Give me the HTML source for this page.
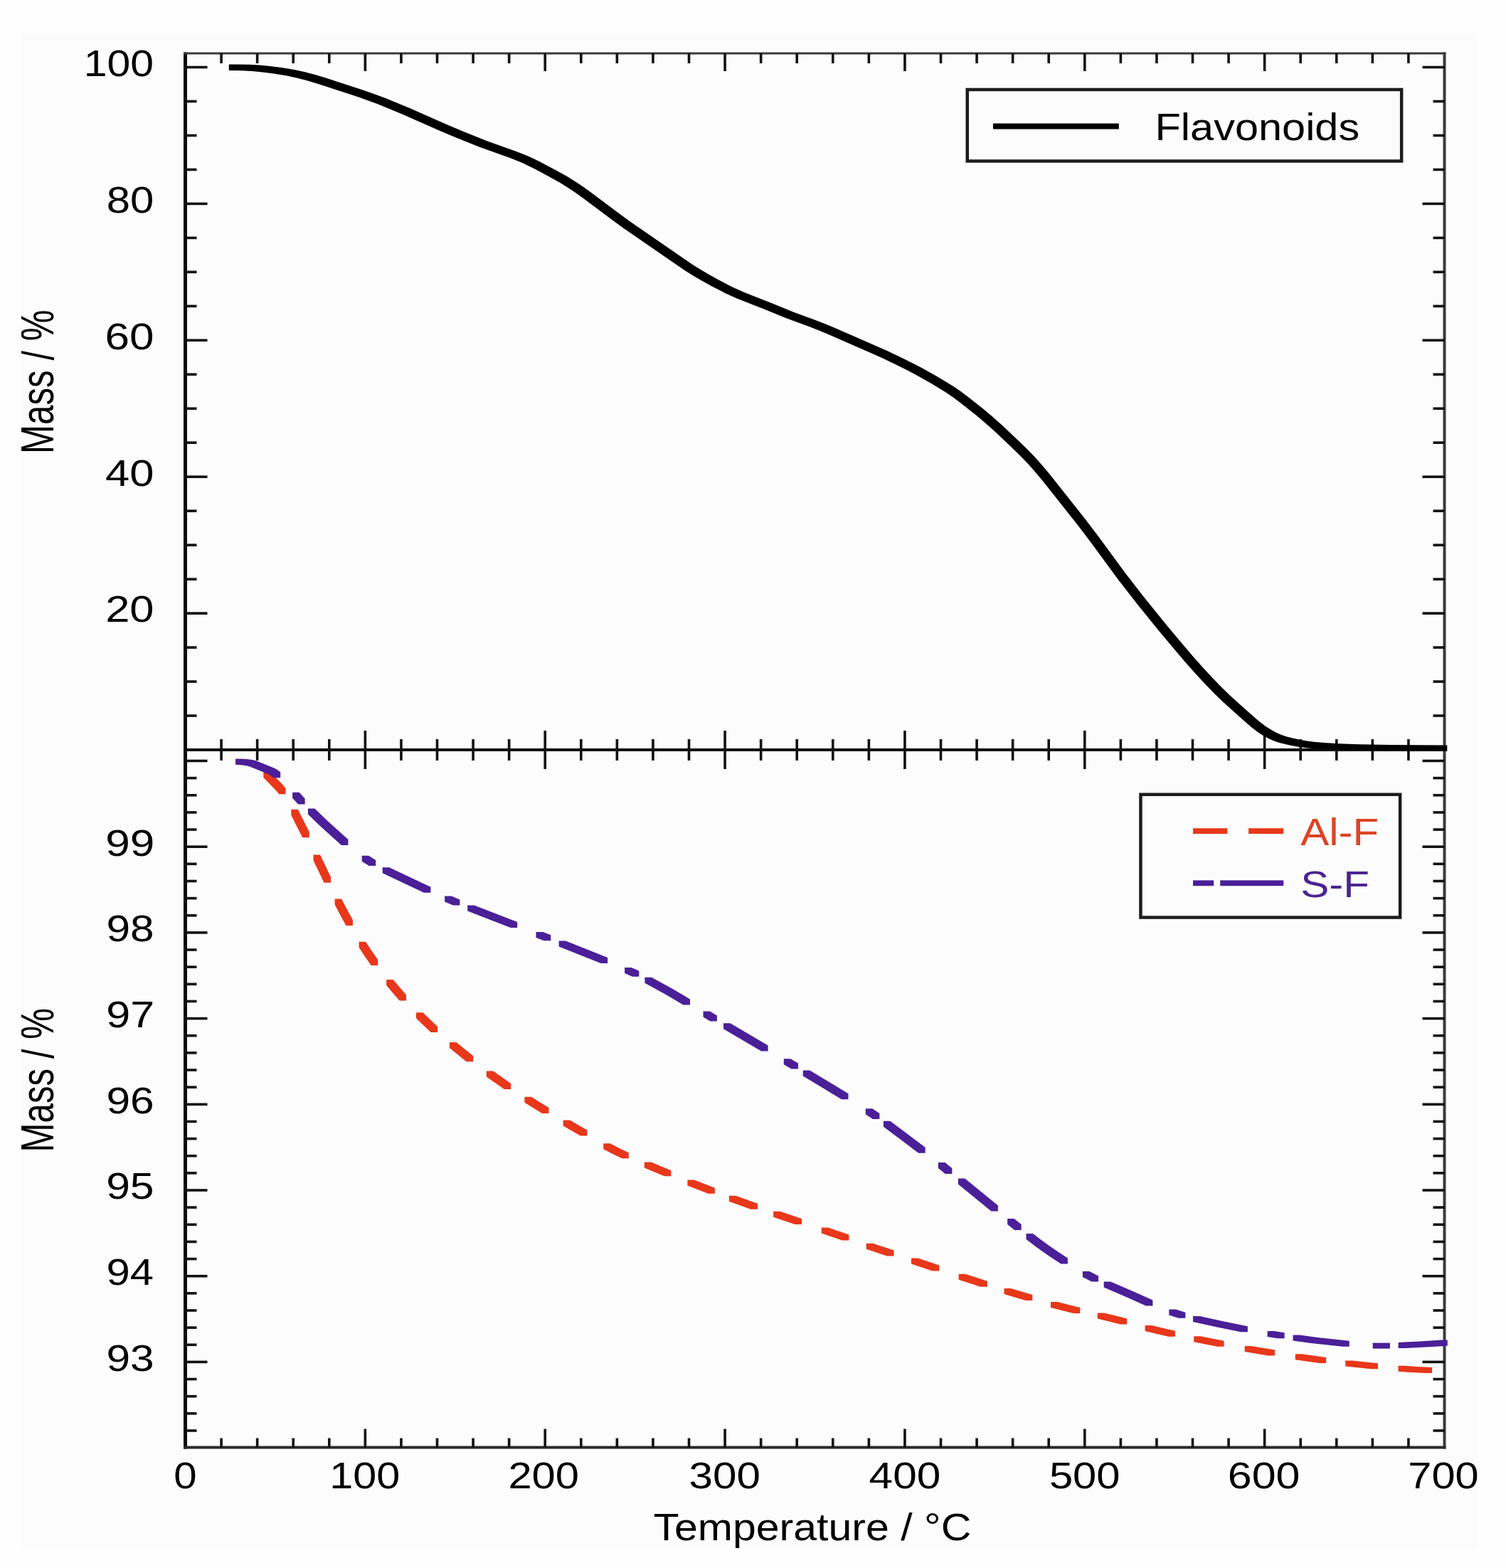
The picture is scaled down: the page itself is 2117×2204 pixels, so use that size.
<!DOCTYPE html>
<html><head><meta charset="utf-8"><title>TGA curves</title>
<style>html,body{margin:0;padding:0;background:#fefefe;}svg{display:block;}</style></head>
<body>
<svg width="2117" height="2204" viewBox="0 0 2117 2204">
<defs><clipPath id="clipL"><rect x="30" y="0" width="2100" height="2204"/></clipPath></defs>
<rect x="0" y="0" width="2117" height="2204" fill="#fefefe"/>
<rect x="30" y="47" width="2046" height="2129" fill="#fcfcfd"/>
<rect x="258" y="73.5" width="5" height="1963" fill="#0a0a0a"/>
<rect x="2028.5" y="73.5" width="4" height="1963" fill="#3a3a3a"/>
<rect x="258" y="73.5" width="1774.5" height="3" fill="#3a3a3a"/>
<rect x="258" y="1052" width="1774.5" height="4" fill="#0a0a0a"/>
<rect x="258" y="2032.5" width="1774.5" height="4" fill="#2a2a2a"/>
<rect x="309.27" y="75" width="3.6" height="14" fill="#111111"/>
<rect x="309.27" y="1039" width="3.6" height="30" fill="#111111"/>
<rect x="309.27" y="2021.5" width="3.6" height="13" fill="#111111"/>
<rect x="359.84" y="75" width="3.6" height="14" fill="#111111"/>
<rect x="359.84" y="1039" width="3.6" height="30" fill="#111111"/>
<rect x="359.84" y="2021.5" width="3.6" height="13" fill="#111111"/>
<rect x="410.41" y="75" width="3.6" height="14" fill="#111111"/>
<rect x="410.41" y="1039" width="3.6" height="30" fill="#111111"/>
<rect x="410.41" y="2021.5" width="3.6" height="13" fill="#111111"/>
<rect x="460.99" y="75" width="3.6" height="14" fill="#111111"/>
<rect x="460.99" y="1039" width="3.6" height="30" fill="#111111"/>
<rect x="460.99" y="2021.5" width="3.6" height="13" fill="#111111"/>
<rect x="511.56" y="75" width="3.6" height="25" fill="#111111"/>
<rect x="511.56" y="1027" width="3.6" height="54" fill="#111111"/>
<rect x="511.56" y="2008.5" width="3.6" height="26" fill="#111111"/>
<rect x="562.13" y="75" width="3.6" height="14" fill="#111111"/>
<rect x="562.13" y="1039" width="3.6" height="30" fill="#111111"/>
<rect x="562.13" y="2021.5" width="3.6" height="13" fill="#111111"/>
<rect x="612.7" y="75" width="3.6" height="14" fill="#111111"/>
<rect x="612.7" y="1039" width="3.6" height="30" fill="#111111"/>
<rect x="612.7" y="2021.5" width="3.6" height="13" fill="#111111"/>
<rect x="663.27" y="75" width="3.6" height="14" fill="#111111"/>
<rect x="663.27" y="1039" width="3.6" height="30" fill="#111111"/>
<rect x="663.27" y="2021.5" width="3.6" height="13" fill="#111111"/>
<rect x="713.84" y="75" width="3.6" height="14" fill="#111111"/>
<rect x="713.84" y="1039" width="3.6" height="30" fill="#111111"/>
<rect x="713.84" y="2021.5" width="3.6" height="13" fill="#111111"/>
<rect x="764.41" y="75" width="3.6" height="25" fill="#111111"/>
<rect x="764.41" y="1027" width="3.6" height="54" fill="#111111"/>
<rect x="764.41" y="2008.5" width="3.6" height="26" fill="#111111"/>
<rect x="814.99" y="75" width="3.6" height="14" fill="#111111"/>
<rect x="814.99" y="1039" width="3.6" height="30" fill="#111111"/>
<rect x="814.99" y="2021.5" width="3.6" height="13" fill="#111111"/>
<rect x="865.56" y="75" width="3.6" height="14" fill="#111111"/>
<rect x="865.56" y="1039" width="3.6" height="30" fill="#111111"/>
<rect x="865.56" y="2021.5" width="3.6" height="13" fill="#111111"/>
<rect x="916.13" y="75" width="3.6" height="14" fill="#111111"/>
<rect x="916.13" y="1039" width="3.6" height="30" fill="#111111"/>
<rect x="916.13" y="2021.5" width="3.6" height="13" fill="#111111"/>
<rect x="966.7" y="75" width="3.6" height="14" fill="#111111"/>
<rect x="966.7" y="1039" width="3.6" height="30" fill="#111111"/>
<rect x="966.7" y="2021.5" width="3.6" height="13" fill="#111111"/>
<rect x="1017.27" y="75" width="3.6" height="25" fill="#111111"/>
<rect x="1017.27" y="1027" width="3.6" height="54" fill="#111111"/>
<rect x="1017.27" y="2008.5" width="3.6" height="26" fill="#111111"/>
<rect x="1067.84" y="75" width="3.6" height="14" fill="#111111"/>
<rect x="1067.84" y="1039" width="3.6" height="30" fill="#111111"/>
<rect x="1067.84" y="2021.5" width="3.6" height="13" fill="#111111"/>
<rect x="1118.41" y="75" width="3.6" height="14" fill="#111111"/>
<rect x="1118.41" y="1039" width="3.6" height="30" fill="#111111"/>
<rect x="1118.41" y="2021.5" width="3.6" height="13" fill="#111111"/>
<rect x="1168.99" y="75" width="3.6" height="14" fill="#111111"/>
<rect x="1168.99" y="1039" width="3.6" height="30" fill="#111111"/>
<rect x="1168.99" y="2021.5" width="3.6" height="13" fill="#111111"/>
<rect x="1219.56" y="75" width="3.6" height="14" fill="#111111"/>
<rect x="1219.56" y="1039" width="3.6" height="30" fill="#111111"/>
<rect x="1219.56" y="2021.5" width="3.6" height="13" fill="#111111"/>
<rect x="1270.13" y="75" width="3.6" height="25" fill="#111111"/>
<rect x="1270.13" y="1027" width="3.6" height="54" fill="#111111"/>
<rect x="1270.13" y="2008.5" width="3.6" height="26" fill="#111111"/>
<rect x="1320.7" y="75" width="3.6" height="14" fill="#111111"/>
<rect x="1320.7" y="1039" width="3.6" height="30" fill="#111111"/>
<rect x="1320.7" y="2021.5" width="3.6" height="13" fill="#111111"/>
<rect x="1371.27" y="75" width="3.6" height="14" fill="#111111"/>
<rect x="1371.27" y="1039" width="3.6" height="30" fill="#111111"/>
<rect x="1371.27" y="2021.5" width="3.6" height="13" fill="#111111"/>
<rect x="1421.84" y="75" width="3.6" height="14" fill="#111111"/>
<rect x="1421.84" y="1039" width="3.6" height="30" fill="#111111"/>
<rect x="1421.84" y="2021.5" width="3.6" height="13" fill="#111111"/>
<rect x="1472.41" y="75" width="3.6" height="14" fill="#111111"/>
<rect x="1472.41" y="1039" width="3.6" height="30" fill="#111111"/>
<rect x="1472.41" y="2021.5" width="3.6" height="13" fill="#111111"/>
<rect x="1522.99" y="75" width="3.6" height="25" fill="#111111"/>
<rect x="1522.99" y="1027" width="3.6" height="54" fill="#111111"/>
<rect x="1522.99" y="2008.5" width="3.6" height="26" fill="#111111"/>
<rect x="1573.56" y="75" width="3.6" height="14" fill="#111111"/>
<rect x="1573.56" y="1039" width="3.6" height="30" fill="#111111"/>
<rect x="1573.56" y="2021.5" width="3.6" height="13" fill="#111111"/>
<rect x="1624.13" y="75" width="3.6" height="14" fill="#111111"/>
<rect x="1624.13" y="1039" width="3.6" height="30" fill="#111111"/>
<rect x="1624.13" y="2021.5" width="3.6" height="13" fill="#111111"/>
<rect x="1674.7" y="75" width="3.6" height="14" fill="#111111"/>
<rect x="1674.7" y="1039" width="3.6" height="30" fill="#111111"/>
<rect x="1674.7" y="2021.5" width="3.6" height="13" fill="#111111"/>
<rect x="1725.27" y="75" width="3.6" height="14" fill="#111111"/>
<rect x="1725.27" y="1039" width="3.6" height="30" fill="#111111"/>
<rect x="1725.27" y="2021.5" width="3.6" height="13" fill="#111111"/>
<rect x="1775.84" y="75" width="3.6" height="25" fill="#111111"/>
<rect x="1775.84" y="1027" width="3.6" height="54" fill="#111111"/>
<rect x="1775.84" y="2008.5" width="3.6" height="26" fill="#111111"/>
<rect x="1826.41" y="75" width="3.6" height="14" fill="#111111"/>
<rect x="1826.41" y="1039" width="3.6" height="30" fill="#111111"/>
<rect x="1826.41" y="2021.5" width="3.6" height="13" fill="#111111"/>
<rect x="1876.99" y="75" width="3.6" height="14" fill="#111111"/>
<rect x="1876.99" y="1039" width="3.6" height="30" fill="#111111"/>
<rect x="1876.99" y="2021.5" width="3.6" height="13" fill="#111111"/>
<rect x="1927.56" y="75" width="3.6" height="14" fill="#111111"/>
<rect x="1927.56" y="1039" width="3.6" height="30" fill="#111111"/>
<rect x="1927.56" y="2021.5" width="3.6" height="13" fill="#111111"/>
<rect x="1978.13" y="75" width="3.6" height="14" fill="#111111"/>
<rect x="1978.13" y="1039" width="3.6" height="30" fill="#111111"/>
<rect x="1978.13" y="2021.5" width="3.6" height="13" fill="#111111"/>
<rect x="260.5" y="92.7" width="31" height="3.6" fill="#111111"/>
<rect x="1999.5" y="92.7" width="31" height="3.6" fill="#111111"/>
<rect x="260.5" y="140.67" width="16" height="3.6" fill="#111111"/>
<rect x="2014.5" y="140.67" width="16" height="3.6" fill="#111111"/>
<rect x="260.5" y="188.65" width="16" height="3.6" fill="#111111"/>
<rect x="2014.5" y="188.65" width="16" height="3.6" fill="#111111"/>
<rect x="260.5" y="236.62" width="16" height="3.6" fill="#111111"/>
<rect x="2014.5" y="236.62" width="16" height="3.6" fill="#111111"/>
<rect x="260.5" y="284.6" width="31" height="3.6" fill="#111111"/>
<rect x="1999.5" y="284.6" width="31" height="3.6" fill="#111111"/>
<rect x="260.5" y="332.57" width="16" height="3.6" fill="#111111"/>
<rect x="2014.5" y="332.57" width="16" height="3.6" fill="#111111"/>
<rect x="260.5" y="380.55" width="16" height="3.6" fill="#111111"/>
<rect x="2014.5" y="380.55" width="16" height="3.6" fill="#111111"/>
<rect x="260.5" y="428.53" width="16" height="3.6" fill="#111111"/>
<rect x="2014.5" y="428.53" width="16" height="3.6" fill="#111111"/>
<rect x="260.5" y="476.5" width="31" height="3.6" fill="#111111"/>
<rect x="1999.5" y="476.5" width="31" height="3.6" fill="#111111"/>
<rect x="260.5" y="524.48" width="16" height="3.6" fill="#111111"/>
<rect x="2014.5" y="524.48" width="16" height="3.6" fill="#111111"/>
<rect x="260.5" y="572.45" width="16" height="3.6" fill="#111111"/>
<rect x="2014.5" y="572.45" width="16" height="3.6" fill="#111111"/>
<rect x="260.5" y="620.43" width="16" height="3.6" fill="#111111"/>
<rect x="2014.5" y="620.43" width="16" height="3.6" fill="#111111"/>
<rect x="260.5" y="668.4" width="31" height="3.6" fill="#111111"/>
<rect x="1999.5" y="668.4" width="31" height="3.6" fill="#111111"/>
<rect x="260.5" y="716.38" width="16" height="3.6" fill="#111111"/>
<rect x="2014.5" y="716.38" width="16" height="3.6" fill="#111111"/>
<rect x="260.5" y="764.35" width="16" height="3.6" fill="#111111"/>
<rect x="2014.5" y="764.35" width="16" height="3.6" fill="#111111"/>
<rect x="260.5" y="812.33" width="16" height="3.6" fill="#111111"/>
<rect x="2014.5" y="812.33" width="16" height="3.6" fill="#111111"/>
<rect x="260.5" y="860.3" width="31" height="3.6" fill="#111111"/>
<rect x="1999.5" y="860.3" width="31" height="3.6" fill="#111111"/>
<rect x="260.5" y="908.28" width="16" height="3.6" fill="#111111"/>
<rect x="2014.5" y="908.28" width="16" height="3.6" fill="#111111"/>
<rect x="260.5" y="956.25" width="16" height="3.6" fill="#111111"/>
<rect x="2014.5" y="956.25" width="16" height="3.6" fill="#111111"/>
<rect x="260.5" y="1004.23" width="16" height="3.6" fill="#111111"/>
<rect x="2014.5" y="1004.23" width="16" height="3.6" fill="#111111"/>
<rect x="260.5" y="1067.7" width="31" height="3.6" fill="#111111"/>
<rect x="1999.5" y="1067.7" width="31" height="3.6" fill="#111111"/>
<rect x="260.5" y="1091.84" width="16" height="3.6" fill="#111111"/>
<rect x="2014.5" y="1091.84" width="16" height="3.6" fill="#111111"/>
<rect x="260.5" y="1115.98" width="16" height="3.6" fill="#111111"/>
<rect x="2014.5" y="1115.98" width="16" height="3.6" fill="#111111"/>
<rect x="260.5" y="1140.12" width="16" height="3.6" fill="#111111"/>
<rect x="2014.5" y="1140.12" width="16" height="3.6" fill="#111111"/>
<rect x="260.5" y="1164.26" width="16" height="3.6" fill="#111111"/>
<rect x="2014.5" y="1164.26" width="16" height="3.6" fill="#111111"/>
<rect x="260.5" y="1188.4" width="31" height="3.6" fill="#111111"/>
<rect x="1999.5" y="1188.4" width="31" height="3.6" fill="#111111"/>
<rect x="260.5" y="1212.54" width="16" height="3.6" fill="#111111"/>
<rect x="2014.5" y="1212.54" width="16" height="3.6" fill="#111111"/>
<rect x="260.5" y="1236.68" width="16" height="3.6" fill="#111111"/>
<rect x="2014.5" y="1236.68" width="16" height="3.6" fill="#111111"/>
<rect x="260.5" y="1260.82" width="16" height="3.6" fill="#111111"/>
<rect x="2014.5" y="1260.82" width="16" height="3.6" fill="#111111"/>
<rect x="260.5" y="1284.96" width="16" height="3.6" fill="#111111"/>
<rect x="2014.5" y="1284.96" width="16" height="3.6" fill="#111111"/>
<rect x="260.5" y="1309.1" width="31" height="3.6" fill="#111111"/>
<rect x="1999.5" y="1309.1" width="31" height="3.6" fill="#111111"/>
<rect x="260.5" y="1333.24" width="16" height="3.6" fill="#111111"/>
<rect x="2014.5" y="1333.24" width="16" height="3.6" fill="#111111"/>
<rect x="260.5" y="1357.38" width="16" height="3.6" fill="#111111"/>
<rect x="2014.5" y="1357.38" width="16" height="3.6" fill="#111111"/>
<rect x="260.5" y="1381.52" width="16" height="3.6" fill="#111111"/>
<rect x="2014.5" y="1381.52" width="16" height="3.6" fill="#111111"/>
<rect x="260.5" y="1405.66" width="16" height="3.6" fill="#111111"/>
<rect x="2014.5" y="1405.66" width="16" height="3.6" fill="#111111"/>
<rect x="260.5" y="1429.8" width="31" height="3.6" fill="#111111"/>
<rect x="1999.5" y="1429.8" width="31" height="3.6" fill="#111111"/>
<rect x="260.5" y="1453.94" width="16" height="3.6" fill="#111111"/>
<rect x="2014.5" y="1453.94" width="16" height="3.6" fill="#111111"/>
<rect x="260.5" y="1478.08" width="16" height="3.6" fill="#111111"/>
<rect x="2014.5" y="1478.08" width="16" height="3.6" fill="#111111"/>
<rect x="260.5" y="1502.22" width="16" height="3.6" fill="#111111"/>
<rect x="2014.5" y="1502.22" width="16" height="3.6" fill="#111111"/>
<rect x="260.5" y="1526.36" width="16" height="3.6" fill="#111111"/>
<rect x="2014.5" y="1526.36" width="16" height="3.6" fill="#111111"/>
<rect x="260.5" y="1550.5" width="31" height="3.6" fill="#111111"/>
<rect x="1999.5" y="1550.5" width="31" height="3.6" fill="#111111"/>
<rect x="260.5" y="1574.64" width="16" height="3.6" fill="#111111"/>
<rect x="2014.5" y="1574.64" width="16" height="3.6" fill="#111111"/>
<rect x="260.5" y="1598.78" width="16" height="3.6" fill="#111111"/>
<rect x="2014.5" y="1598.78" width="16" height="3.6" fill="#111111"/>
<rect x="260.5" y="1622.92" width="16" height="3.6" fill="#111111"/>
<rect x="2014.5" y="1622.92" width="16" height="3.6" fill="#111111"/>
<rect x="260.5" y="1647.06" width="16" height="3.6" fill="#111111"/>
<rect x="2014.5" y="1647.06" width="16" height="3.6" fill="#111111"/>
<rect x="260.5" y="1671.2" width="31" height="3.6" fill="#111111"/>
<rect x="1999.5" y="1671.2" width="31" height="3.6" fill="#111111"/>
<rect x="260.5" y="1695.34" width="16" height="3.6" fill="#111111"/>
<rect x="2014.5" y="1695.34" width="16" height="3.6" fill="#111111"/>
<rect x="260.5" y="1719.48" width="16" height="3.6" fill="#111111"/>
<rect x="2014.5" y="1719.48" width="16" height="3.6" fill="#111111"/>
<rect x="260.5" y="1743.62" width="16" height="3.6" fill="#111111"/>
<rect x="2014.5" y="1743.62" width="16" height="3.6" fill="#111111"/>
<rect x="260.5" y="1767.76" width="16" height="3.6" fill="#111111"/>
<rect x="2014.5" y="1767.76" width="16" height="3.6" fill="#111111"/>
<rect x="260.5" y="1791.9" width="31" height="3.6" fill="#111111"/>
<rect x="1999.5" y="1791.9" width="31" height="3.6" fill="#111111"/>
<rect x="260.5" y="1816.04" width="16" height="3.6" fill="#111111"/>
<rect x="2014.5" y="1816.04" width="16" height="3.6" fill="#111111"/>
<rect x="260.5" y="1840.18" width="16" height="3.6" fill="#111111"/>
<rect x="2014.5" y="1840.18" width="16" height="3.6" fill="#111111"/>
<rect x="260.5" y="1864.32" width="16" height="3.6" fill="#111111"/>
<rect x="2014.5" y="1864.32" width="16" height="3.6" fill="#111111"/>
<rect x="260.5" y="1888.46" width="16" height="3.6" fill="#111111"/>
<rect x="2014.5" y="1888.46" width="16" height="3.6" fill="#111111"/>
<rect x="260.5" y="1912.6" width="31" height="3.6" fill="#111111"/>
<rect x="1999.5" y="1912.6" width="31" height="3.6" fill="#111111"/>
<rect x="260.5" y="1936.74" width="16" height="3.6" fill="#111111"/>
<rect x="2014.5" y="1936.74" width="16" height="3.6" fill="#111111"/>
<rect x="260.5" y="1960.88" width="16" height="3.6" fill="#111111"/>
<rect x="2014.5" y="1960.88" width="16" height="3.6" fill="#111111"/>
<rect x="260.5" y="1985.02" width="16" height="3.6" fill="#111111"/>
<rect x="2014.5" y="1985.02" width="16" height="3.6" fill="#111111"/>
<rect x="260.5" y="2009.16" width="16" height="3.6" fill="#111111"/>
<rect x="2014.5" y="2009.16" width="16" height="3.6" fill="#111111"/>
<path d="M402,106.3 417,109.5 430.7,113 446.7,117.8 499.5,134.9 515.1,140.4 530.2,146.1 547.3,152.9 566,160.7 618.1,183.8 640,193 673.6,206.4 717,222 725.7,225.4 733.8,228.8 749.3,236.3 770.4,247.4 785.9,256.1 799.1,264.2 808.5,270.6 819.3,278.3 859.7,308.6 875.4,320 950.8,372.1 963.2,380.4 974,387.2 985.5,394 999.9,402 1019.1,411.9 1035.8,419.5 1075.3,435 1105.9,447.4 1137.9,459.2 1152.5,464.9 1165.6,470.5 1237.5,502.1 1261.4,513.4 1284.2,525.1 1307.8,538.3 1328.8,551.1 1339.5,558.3 1350.1,566.2 1372,583.6 1385,594.5 1398.5,606.6 1423,629.7 1434.8,641.3 1444.7,651.6 1454.9,663 1466,676.3 1515.1,738.3 1533.7,762.7 1571.7,814.4 1597.9,848.3 1629.5,887.2 1651.1,913 1666.4,931 1680.6,947 1694.3,961.8 1706.9,974.7 1719.3,986.7 1740.7,1006.1 1758.3,1021.5 1768.3,1029.2 1777.6,1035.1 1784.1,1038.5 1791,1041.4 1798.4,1043.9 1806.5,1046.1 1815.4,1048.1 1825.2,1049.8 1835.9,1051.2 1847.7,1052.3 1870.5,1053.8 1900.2,1054.7 1945.1,1055.4 2023.8,1056 2034.3,1056 2034.3,1047.5 1955.6,1046.9 1910.7,1046.2 1881,1045.3 1858.2,1043.8 1846.4,1042.7 1835.7,1041.3 1825.9,1039.6 1817,1037.6 1808.9,1035.4 1801.5,1032.9 1794.6,1030 1788.1,1026.6 1778.8,1020.7 1768.8,1013 1751.2,997.6 1729.8,978.2 1717.4,966.2 1704.8,953.3 1691.1,938.5 1676.9,922.5 1661.6,904.5 1640,878.7 1608.4,839.8 1582.2,805.9 1544.2,754.2 1525.6,729.8 1476.5,667.8 1465.4,654.5 1455.2,643.1 1445.3,632.8 1433.5,621.2 1409,598.1 1395.5,586 1382.5,575.1 1360.6,557.7 1350,549.8 1339.3,542.6 1318.3,529.8 1294.7,516.6 1271.9,504.9 1248,493.6 1176.1,462 1163,456.4 1148.4,450.7 1116.4,438.9 1085.8,426.5 1046.3,411 1029.6,403.4 1010.4,393.5 996,385.5 984.5,378.7 973.7,371.9 961.3,363.6 885.9,311.5 870.2,300.1 829.8,269.8 819,262.1 809.6,255.7 796.4,247.6 780.9,238.9 759.8,227.8 744.3,220.3 736.2,216.9 727.5,213.5 684.1,197.9 650.5,184.5 628.6,175.3 576.5,152.2 557.8,144.4 540.7,137.6 525.6,131.9 510,126.4 457.2,109.3 441.2,104.5 427.5,101 412.5,97.8 395.6,95 379.7,92.9 364.9,91.5 350.5,90.8 332.2,90.5 321.8,90.5 321.8,99 340,99.3 354.4,100 369.2,101.4 385.1,103.5Z" fill="#000"/>
<path d="M409.3,1137.7 409.3,1145.7 425.2,1177.3 434.7,1177.3 434.7,1169.3 418.8,1137.7Z" fill="#e8371a"/>
<path d="M440.5,1201.6 440.5,1209.6 455.5,1240.8 465,1240.8 465,1232.8 450,1201.6Z" fill="#e8371a"/>
<path d="M470.6,1271.6 478,1285.7 486.4,1301.1 495.9,1301.1 495.9,1293.1 487.5,1277.7 480.1,1263.6 470.6,1263.6Z" fill="#e8371a"/>
<path d="M504.6,1331.8 512.9,1344.5 521.7,1357.1 531.2,1357.1 531.2,1349.1 522.4,1336.5 514.1,1323.8 504.6,1323.8Z" fill="#e8371a"/>
<path d="M543.1,1376.9 543.1,1384.9 561.5,1406.4 571,1406.4 571,1398.4 552.6,1376.9Z" fill="#e8371a"/>
<path d="M585,1431.3 595.3,1441.3 605.6,1450.9 615.1,1450.9 615.1,1442.9 604.8,1433.3 594.5,1423.3 585,1423.3Z" fill="#e8371a"/>
<path d="M631.9,1465.1 631.9,1473.1 655.7,1492.2 665.2,1492.2 665.2,1484.2 641.4,1465.1Z" fill="#e8371a"/>
<path d="M683.8,1505.4 683.8,1513.4 708.7,1530.9 718.2,1530.9 718.2,1522.9 693.3,1505.4Z" fill="#e8371a"/>
<path d="M737.4,1541.8 737.4,1549.8 762,1565.1 771.5,1565.1 771.5,1557.1 746.9,1541.8Z" fill="#e8371a"/>
<path d="M791.6,1574.4 791.6,1582.4 815.9,1596.5 825.4,1596.5 825.4,1588.5 801.1,1574.4Z" fill="#e8371a"/>
<path d="M848.2,1615.3 860.7,1621.8 874.3,1628.2 883.8,1628.2 883.8,1620.2 870.2,1613.8 857.7,1607.3 848.2,1607.3Z" fill="#e8371a"/>
<path d="M905.8,1633.6 905.8,1641.6 933.9,1653.2 943.4,1653.2 943.4,1645.2 915.3,1633.6Z" fill="#e8371a"/>
<path d="M966.4,1658.4 966.4,1666.4 995.4,1677.7 1004.9,1677.7 1004.9,1669.7 975.9,1658.4Z" fill="#e8371a"/>
<path d="M1024.9,1680.8 1024.9,1688.8 1055.5,1699.8 1065,1699.8 1065,1691.8 1034.4,1680.8Z" fill="#e8371a"/>
<path d="M1087.1,1702.7 1087.1,1710.7 1117.5,1721 1127,1721 1127,1713 1096.6,1702.7Z" fill="#e8371a"/>
<path d="M1154.7,1725.4 1154.7,1733.4 1183.9,1743.5 1193.4,1743.5 1193.4,1735.5 1164.2,1725.4Z" fill="#e8371a"/>
<path d="M1217.7,1747.7 1217.7,1755.7 1247,1765.6 1256.5,1765.6 1256.5,1757.6 1227.2,1747.7Z" fill="#e8371a"/>
<path d="M1281,1768.6 1281,1776.6 1310.9,1786.4 1320.4,1786.4 1320.4,1778.4 1290.5,1768.6Z" fill="#e8371a"/>
<path d="M1347.6,1790.7 1347.6,1798.7 1378.4,1808.7 1387.9,1808.7 1387.9,1800.7 1357.1,1790.7Z" fill="#e8371a"/>
<path d="M1411.5,1811.1 1411.5,1819.1 1441.8,1828.1 1451.3,1828.1 1451.3,1820.1 1421,1811.1Z" fill="#e8371a"/>
<path d="M1477,1829.9 1477,1837.9 1508.8,1845.9 1518.3,1845.9 1518.3,1837.9 1486.5,1829.9Z" fill="#e8371a"/>
<path d="M1542.7,1853.6 1559.2,1857.5 1574.7,1861.6 1584.2,1861.6 1584.2,1853.6 1568.7,1849.5 1552.2,1845.6 1542.7,1845.6Z" fill="#e8371a"/>
<path d="M1609.6,1870.9 1624.4,1874.6 1642.4,1878.7 1651.9,1878.7 1651.9,1870.7 1633.9,1866.6 1619.1,1862.9 1609.6,1862.9Z" fill="#e8371a"/>
<path d="M1678.2,1878.3 1678.2,1886.3 1711.1,1892.8 1720.6,1892.8 1720.6,1884.8 1687.7,1878.3Z" fill="#e8371a"/>
<path d="M1749.7,1891.9 1749.7,1899.9 1782.6,1905.4 1792.1,1905.4 1792.1,1897.4 1759.2,1891.9Z" fill="#e8371a"/>
<path d="M1820.8,1903.3 1820.8,1911.3 1854.7,1915.9 1864.2,1915.9 1864.2,1907.9 1830.3,1903.3Z" fill="#e8371a"/>
<path d="M1891.2,1912.5 1891.2,1920.5 1927.5,1924.3 1937,1924.3 1937,1916.3 1900.7,1912.5Z" fill="#e8371a"/>
<path d="M1965.5,1927.8 1982.6,1928.9 2003.6,1930 2013.1,1930 2013.1,1922 1992.1,1920.9 1975,1919.8 1965.5,1919.8Z" fill="#e8371a"/>
<path d="M370.3,1093 385,1107.9 388.8,1112.1 392.1,1116.2 401.6,1116.2 401.6,1108.2 398.3,1104.1 394.5,1099.9 379.8,1085 370.3,1085Z" fill="#e8371a"/>
<path d="M331.2,1066.7 331.2,1074.7 337.2,1075.2 346.7,1075.2 346.7,1067.2 340.8,1066.7Z" fill="#e8371a"/>
<path d="M432.9,1144.5 451.6,1162.5 479.9,1188 489.4,1188 489.4,1180 461.1,1154.5 442.4,1136.5 432.9,1136.5Z" fill="#4a1f98"/>
<path d="M537.7,1227.3 575.2,1245.1 595.9,1254.7 605.4,1254.7 605.4,1246.7 584.7,1237.1 547.2,1219.3 537.7,1219.3Z" fill="#4a1f98"/>
<path d="M657.2,1272.5 657.2,1280.5 717.7,1304 727.2,1304 727.2,1296 666.7,1272.5Z" fill="#4a1f98"/>
<path d="M785.6,1322.6 785.6,1330.6 844.6,1354.1 854.1,1354.1 854.1,1346.1 795.1,1322.6Z" fill="#4a1f98"/>
<path d="M906.4,1381.7 936.5,1398.2 960.5,1412.4 970,1412.4 970,1404.4 946,1390.2 915.9,1373.7 906.4,1373.7Z" fill="#4a1f98"/>
<path d="M1017,1438.3 1017,1446.3 1070.1,1477.5 1079.6,1477.5 1079.6,1469.5 1026.5,1438.3Z" fill="#4a1f98"/>
<path d="M1128.8,1504.4 1128.8,1512.4 1183,1545.2 1192.5,1545.2 1192.5,1537.2 1138.3,1504.4Z" fill="#4a1f98"/>
<path d="M1241.9,1575.8 1241.9,1583.8 1291.1,1620.7 1300.6,1620.7 1300.6,1612.7 1251.4,1575.8Z" fill="#4a1f98"/>
<path d="M1346.9,1656.5 1346.9,1664.5 1393.4,1702.4 1402.9,1702.4 1402.9,1694.4 1356.4,1656.5Z" fill="#4a1f98"/>
<path d="M1454,1750.7 1463.9,1758 1477.7,1767.5 1491.4,1776.6 1500.9,1776.6 1500.9,1768.6 1487.2,1759.5 1473.4,1750 1463.5,1742.7 1452,1733.9 1442.5,1733.9 1442.5,1741.9Z" fill="#4a1f98"/>
<path d="M1551.7,1809.6 1584.7,1823.8 1610.9,1835.6 1620.4,1835.6 1620.4,1827.6 1594.2,1815.8 1561.2,1801.6 1551.7,1801.6Z" fill="#4a1f98"/>
<path d="M1677,1858.1 1710,1865.3 1744.4,1872.3 1753.9,1872.3 1753.9,1864.3 1719.5,1857.3 1686.5,1850.1 1677,1850.1Z" fill="#4a1f98"/>
<path d="M1817.5,1884.5 1843,1887.9 1887.3,1892.7 1896.8,1892.7 1896.8,1884.7 1852.5,1879.9 1827,1876.5 1817.5,1876.5Z" fill="#4a1f98"/>
<path d="M411.1,1113.8 411.1,1121.8 419.1,1130.4 428.6,1130.4 428.6,1122.4 420.6,1113.8Z" fill="#4a1f98"/>
<path d="M508.7,1202.7 508.7,1210.7 518.7,1217 528.2,1217 528.2,1209 518.2,1202.7Z" fill="#4a1f98"/>
<path d="M625.1,1259.4 625.1,1267.4 636.9,1272.4 646.4,1272.4 646.4,1264.4 634.6,1259.4Z" fill="#4a1f98"/>
<path d="M753.5,1309.9 753.5,1317.9 764.8,1322.3 774.3,1322.3 774.3,1314.3 763,1309.9Z" fill="#4a1f98"/>
<path d="M878.1,1359.9 878.1,1367.9 888.8,1372.8 898.3,1372.8 898.3,1364.8 887.6,1359.9Z" fill="#4a1f98"/>
<path d="M988.5,1421.5 988.5,1429.5 998.4,1435.4 1007.9,1435.4 1007.9,1427.4 998,1421.5Z" fill="#4a1f98"/>
<path d="M1101.8,1488.2 1101.8,1496.2 1112.5,1502.6 1122,1502.6 1122,1494.6 1111.3,1488.2Z" fill="#4a1f98"/>
<path d="M1216.8,1558.2 1216.8,1566.2 1226.9,1573 1236.4,1573 1236.4,1565 1226.3,1558.2Z" fill="#4a1f98"/>
<path d="M1318.9,1634.1 1318.9,1642.1 1328.8,1649.9 1338.3,1649.9 1338.3,1641.9 1328.4,1634.1Z" fill="#4a1f98"/>
<path d="M1416.1,1712.9 1416.1,1720.9 1426.2,1728.9 1435.7,1728.9 1435.7,1720.9 1425.6,1712.9Z" fill="#4a1f98"/>
<path d="M1521.9,1787 1521.9,1795 1534.5,1801.6 1544,1801.6 1544,1793.6 1531.4,1787Z" fill="#4a1f98"/>
<path d="M1643.3,1840.6 1643.3,1848.6 1656.8,1852.8 1666.3,1852.8 1666.3,1844.8 1652.8,1840.6Z" fill="#4a1f98"/>
<path d="M1781.6,1870.9 1781.6,1878.9 1796.1,1881.2 1805.6,1881.2 1805.6,1873.2 1791.1,1870.9Z" fill="#4a1f98"/>
<path d="M1929.7,1887.6 1929.7,1895.6 1944.4,1895.6 1953.9,1895.6 1953.9,1887.6 1939.2,1887.6Z" fill="#4a1f98"/>
<path d="M337.2,1075.1 342.9,1075.7 347.5,1076.6 351.6,1077.8 375.7,1087.6 380.3,1090.1 384.7,1093.2 394.2,1093.2 394.2,1085.2 389.8,1082.1 385.2,1079.6 361.1,1069.8 357,1068.6 352.4,1067.7 346.7,1067.1 340.8,1066.8 331.2,1066.8 331.2,1074.8Z" fill="#4a1f98"/>
<path d="M1999.5,1885.3 1965.7,1887 1965.7,1895 1975.2,1895 2009,1893.3 2034.8,1891.6 2034.8,1883.6 2025.3,1883.6Z" fill="#4a1f98"/>
<text transform="translate(117.68,106.89) scale(1.1913,1.0300)" font-size="49.5" fill="#000" font-family="Liberation Sans, Arial, sans-serif">100</text>
<text transform="translate(149.81,298.79) scale(1.2082,1.0300)" font-size="49.5" fill="#000" font-family="Liberation Sans, Arial, sans-serif">80</text>
<text transform="translate(147.4,490.69) scale(1.2537,1.0300)" font-size="49.5" fill="#000" font-family="Liberation Sans, Arial, sans-serif">60</text>
<text transform="translate(147.97,682.59) scale(1.2429,1.0300)" font-size="49.5" fill="#000" font-family="Liberation Sans, Arial, sans-serif">40</text>
<text transform="translate(148.13,874.49) scale(1.2398,1.0300)" font-size="49.5" fill="#000" font-family="Liberation Sans, Arial, sans-serif">20</text>
<text transform="translate(148.2,1202.59) scale(1.2541,1.0300)" font-size="49.5" fill="#000" font-family="Liberation Sans, Arial, sans-serif">99</text>
<text transform="translate(149.38,1323.29) scale(1.2200,1.0300)" font-size="49.5" fill="#000" font-family="Liberation Sans, Arial, sans-serif">98</text>
<text transform="translate(149.35,1443.99) scale(1.2321,1.0300)" font-size="49.5" fill="#000" font-family="Liberation Sans, Arial, sans-serif">97</text>
<text transform="translate(149.38,1564.69) scale(1.2200,1.0300)" font-size="49.5" fill="#000" font-family="Liberation Sans, Arial, sans-serif">96</text>
<text transform="translate(149.17,1685.39) scale(1.2240,1.0300)" font-size="49.5" fill="#000" font-family="Liberation Sans, Arial, sans-serif">95</text>
<text transform="translate(149.41,1806.09) scale(1.2082,1.0300)" font-size="49.5" fill="#000" font-family="Liberation Sans, Arial, sans-serif">94</text>
<text transform="translate(149.38,1926.79) scale(1.2200,1.0300)" font-size="49.5" fill="#000" font-family="Liberation Sans, Arial, sans-serif">93</text>
<text transform="translate(244.18,2092.4) scale(1.1742,1.0300)" font-size="49.5" fill="#000" font-family="Liberation Sans, Arial, sans-serif">0</text>
<text transform="translate(463.25,2092.4) scale(1.1991,1.0300)" font-size="49.5" fill="#000" font-family="Liberation Sans, Arial, sans-serif">100</text>
<text transform="translate(714.42,2092.4) scale(1.2057,1.0300)" font-size="49.5" fill="#000" font-family="Liberation Sans, Arial, sans-serif">200</text>
<text transform="translate(968.59,2092.4) scale(1.2159,1.0300)" font-size="49.5" fill="#000" font-family="Liberation Sans, Arial, sans-serif">300</text>
<text transform="translate(1221.59,2092.4) scale(1.2196,1.0300)" font-size="49.5" fill="#000" font-family="Liberation Sans, Arial, sans-serif">400</text>
<text transform="translate(1474.9,2092.4) scale(1.2070,1.0300)" font-size="49.5" fill="#000" font-family="Liberation Sans, Arial, sans-serif">500</text>
<text transform="translate(1725.75,2092.4) scale(1.2313,1.0300)" font-size="49.5" fill="#000" font-family="Liberation Sans, Arial, sans-serif">600</text>
<text transform="translate(1979.32,2092.4) scale(1.2032,1.0300)" font-size="49.5" fill="#000" font-family="Liberation Sans, Arial, sans-serif">700</text>
<text transform="translate(918.42,2164.7) scale(1.1691,1.0500)" font-size="50.5" fill="#000" font-family="Liberation Sans, Arial, sans-serif">Temperature / °C</text>
<g clip-path="url(#clipL)"><text transform="translate(75.2,637.94) scale(1.30,1) rotate(-90)" font-size="49.25" fill="#000" font-family="Liberation Sans, Arial, sans-serif">Mass / %</text></g>
<g clip-path="url(#clipL)"><text transform="translate(75.2,1619.44) scale(1.30,1) rotate(-90)" font-size="49.25" fill="#000" font-family="Liberation Sans, Arial, sans-serif">Mass / %</text></g>
<rect x="1359.75" y="125.95" width="610.4" height="100.5" fill="none" stroke="#1c1c1c" stroke-width="4.5"/>
<rect x="1396" y="173.5" width="176.8" height="8" fill="#000"/>
<text transform="translate(1623.54,196.8) scale(1.1898,1.0600)" font-size="50" fill="#000" font-family="Liberation Sans, Arial, sans-serif">Flavonoids</text>
<rect x="1603.45" y="1116.75" width="364.7" height="172.8" fill="none" stroke="#1c1c1c" stroke-width="4.5"/>
<rect x="1677" y="1164.2" width="48.3" height="7.8" fill="#e8371a"/>
<rect x="1755.1" y="1164.2" width="49.1" height="7.8" fill="#e8371a"/>
<rect x="1677" y="1237.4" width="29.2" height="7.8" fill="#4a1f98"/>
<rect x="1715.2" y="1237.4" width="89" height="7.8" fill="#4a1f98"/>
<text transform="translate(1828.2,1188.3) scale(1.1892,1.0600)" font-size="50.5" fill="#dc4424" font-family="Liberation Sans, Arial, sans-serif">Al-F</text>
<text transform="translate(1828.19,1260.8) scale(1.1907,1.0400)" font-size="50.5" fill="#4a2490" font-family="Liberation Sans, Arial, sans-serif">S-F</text>
</svg>
</body></html>
